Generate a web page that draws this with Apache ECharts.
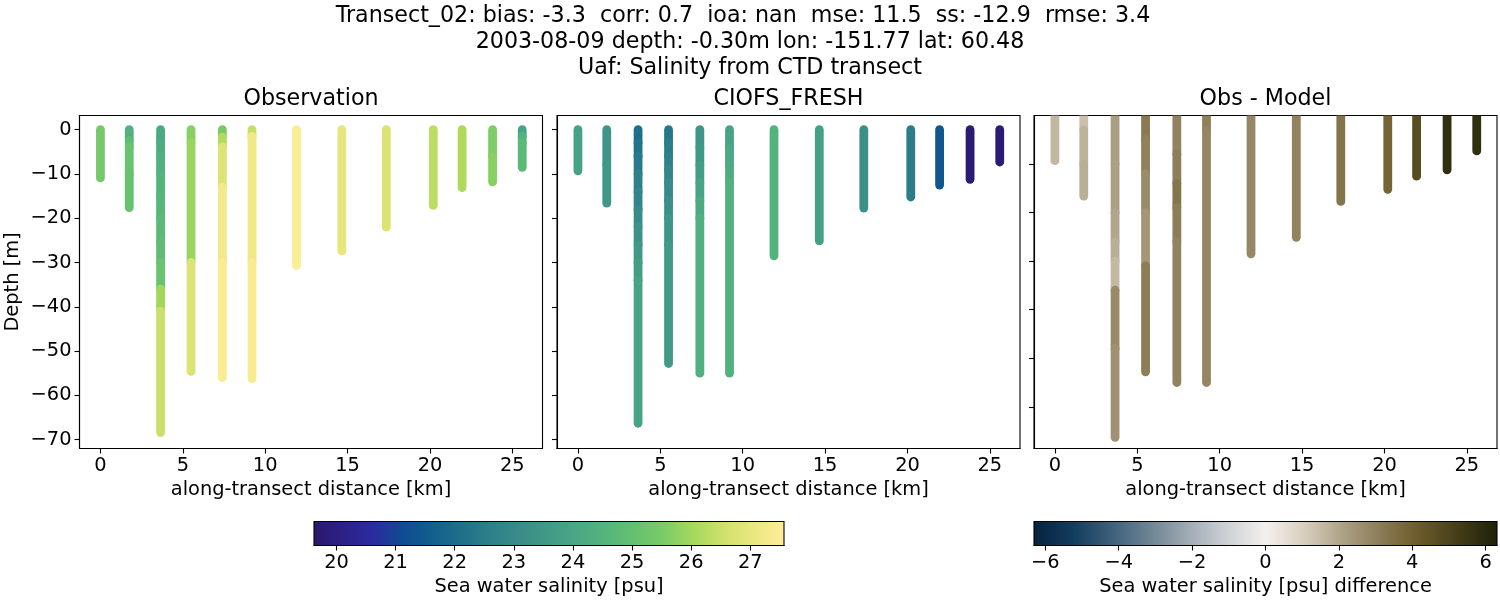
<!DOCTYPE html>
<html>
<head>
<meta charset="utf-8">
<title>Transect_02</title>
<script src="https://cdn.jsdelivr.net/npm/echarts@6/dist/echarts.min.js"></script>
<style>
    html, body { margin: 0; padding: 0; background: #fff; }
    #main { width: 1500px; height: 600px; }
</style>
</head>
<body>
<div id="main"></div>
<script>
// station positions along the transect [km]
var distances = [0, 1.75, 3.65, 5.5, 7.4, 9.2, 11.9, 14.65, 17.35, 20.2, 21.95, 23.8, 25.6];

// per station: runs of [top depth, bottom depth, salinity]
var obsProfiles = [
    [[0, -10.9, 25.4]],
    [[0, -2.5, 24.4], [-2.5, -4, 24.9], [-4, -10, 25.15], [-10, -17.6, 25.1]],
    [[0, -3, 24.1], [-3, -6, 24.25], [-6, -10, 24.35], [-10, -15, 24.5], [-15, -20, 24.6], [-20, -25, 24.75], [-25, -30, 24.85], [-30, -36, 25.15], [-36, -41, 26.0], [-41, -68.4, 26.5]],
    [[0, -3, 25.7], [-3, -30, 25.9], [-30, -54.6, 26.78]],
    [[0, -1.7, 25.5], [-1.7, -3.9, 26.2], [-3.9, -13, 26.8], [-13, -30, 27.25], [-30, -56, 27.45]],
    [[0, -1.5, 26.45], [-1.5, -30, 27.2], [-30, -56.2, 27.4]],
    [[0, -30.7, 27.5]],
    [[0, -27.4, 26.95]],
    [[0, -22, 26.75]],
    [[0, -17.1, 26.3]],
    [[0, -13.1, 26.15]],
    [[0, -6, 25.55], [-6, -11.8, 25.7]],
    [[0, -1.5, 23.9], [-1.5, -3, 24.5], [-3, -8.5, 24.75]]
];
var modelProfiles = [
    [[0, -9.3, 23.85]],
    [[0, -8, 23.45], [-8, -16.6, 23.55]],
    [[0, -3, 22.1], [-3, -6, 22.25], [-6, -10, 22.4], [-10, -14, 22.6], [-14, -18, 22.8], [-18, -22, 23.05], [-22, -26, 23.3], [-26, -30, 23.55], [-30, -34, 23.75], [-34, -66.3, 23.9]],
    [[0, -3, 22.35], [-3, -6, 22.5], [-6, -9, 22.7], [-9, -12, 22.85], [-12, -16, 23.05], [-16, -20, 23.25], [-20, -26, 23.45], [-26, -52.8, 23.6]],
    [[0, -4, 23.4], [-4, -8, 23.55], [-8, -12, 23.75], [-12, -16, 23.95], [-16, -20, 24.15], [-20, -55, 24.35]],
    [[0, -4, 23.9], [-4, -8, 24.1], [-8, -12, 24.25], [-12, -55, 24.4]],
    [[0, -28.5, 24.5]],
    [[0, -25.1, 23.8]],
    [[0, -17.7, 23.2]],
    [[0, -15.2, 22.5]],
    [[0, -12.5, 21.4]],
    [[0, -11.2, 19.8]],
    [[0, -7.3, 19.8]]
];
// runs of [top depth, bottom depth, salinity difference]
var diffProfiles = [
    [[0, -9.3, 1.6]],
    [[0, -3, 1.4], [-3, -10, 1.7], [-10, -16.6, 1.8]],
    [[0, -10, 2.2], [-10, -20, 2.15], [-20, -26, 2.0], [-26, -30, 1.8], [-30, -36, 1.55], [-36, -48, 2.75], [-48, -66.3, 2.55]],
    [[0, -5, 3.2], [-5, -12, 3.0], [-12, -20, 2.7], [-20, -31, 2.4], [-31, -52.8, 3.1]],
    [[0, -8, 2.95], [-8, -14, 3.05], [-14, -19, 3.35], [-19, -26, 3.1], [-26, -55, 2.95]],
    [[0, -3, 3.0], [-3, -55, 2.85]],
    [[0, -28.5, 2.8]],
    [[0, -25.1, 2.95]],
    [[0, -17.7, 3.35]],
    [[0, -15.2, 3.9]],
    [[0, -12.5, 4.7]],
    [[0, -11.2, 5.8]],
    [[0, -7.3, 5.8]]
];

var distanceTicks = [0, 5, 10, 15, 20, 25];
var depthTicks = [0, -10, -20, -30, -40, -50, -60, -70];
var diffDepthTicks = [-10, -20, -30, -40, -50, -60];
var salinityTicks = [20, 21, 22, 23, 24, 25, 26, 27];
var differenceTicks = [-6, -4, -2, 0, 2, 4, 6];

var titleLines = [
    'Transect_02: bias: -3.3  corr: 0.7  ioa: nan  mse: 11.5  ss: -12.9  rmse: 3.4  ',
    '2003-08-09 depth: -0.30m lon: -151.77 lat: 60.48',
    'Uaf: Salinity from CTD transect'
];
var panelTitles = ['Observation', 'CIOFS_FRESH', 'Obs - Model'];

var salinityRange = [19.62, 27.57];
var differenceRange = [-6.31, 6.31];

// evenly spaced colour stops, low to high
var halineColors = ['#2a186c', '#2d2186', '#2b2b9f', '#104b92', '#125f8d', '#1f6f8b', '#2e808a', '#398c89', '#419a87',
    '#4ba884', '#56b67c', '#66c170', '#7ecd66', '#a9d95c', '#d1e16d', '#ebe782', '#fdee99'];
var diffColors = ['#07223f', '#123c5d', '#3d5f7a', '#6d8494', '#a0abb5', '#cdd1d5', '#f4f0ed', '#d8cfbe', '#ada186', '#8b7b55', '#6b5a29', '#433e18', '#1e2009'];

var fontFamily = '"DejaVu Sans"';
var tickFont = 19.4;
var titleFont = 22.2;
var black = '#000';

function colorOf(value, range, colors) {
    var t = (value - range[0]) / (range[1] - range[0]);
    return echarts.color.lerp(Math.max(0, Math.min(1, t)), colors);
}

function minusSign(value) {
    return String(value).replace('-', '\u2212');
}

function flattenRuns(profiles) {
    var rows = [];
    profiles.forEach(function (runs, i) {
        runs.forEach(function (run) {
            rows.push([distances[i], run[0], run[1], run[2]]);
        });
    });
    return rows;
}

function profileSeries(index, profiles, range, colors) {
    return {
        type: 'custom',
        xAxisIndex: index,
        yAxisIndex: index,
        clip: true,
        coordinateSystem: 'cartesian2d',
        encode: { x: 0, y: [1, 2] },
        data: flattenRuns(profiles),
        renderItem: function (params, api) {
            var a = api.coord([api.value(0), api.value(1)]);
            var b = api.coord([api.value(0), api.value(2)]);
            return {
                type: 'line',
                shape: { x1: a[0], y1: a[1], x2: b[0], y2: b[1] },
                style: {
                    stroke: colorOf(api.value(3), range, colors),
                    lineWidth: 8.8,
                    lineCap: 'round'
                }
            };
        }
    };
}

function colorbarSeries(index, range, colors) {
    return {
        type: 'custom',
        xAxisIndex: index,
        yAxisIndex: index,
        encode: { x: [0, 1] },
        data: [[range[0], range[1]]],
        z: 1,
        renderItem: function (params, api) {
            var a = api.coord([api.value(0), 1]);
            var b = api.coord([api.value(1), 0]);
            return {
                type: 'rect',
                shape: { x: a[0], y: a[1], width: b[0] - a[0], height: b[1] - a[1] },
                style: {
                    fill: new echarts.graphic.LinearGradient(0, 0, 1, 0, colors.map(function (c, i) {
                        return { offset: i / (colors.length - 1), color: c };
                    }))
                }
            };
        }
    };
}

var panelGrids = [
    { left: 79.5, top: 115.5, width: 463, height: 333, show: true, borderColor: black, borderWidth: 1.1, backgroundColor: '#fff' },
    { left: 557, top: 115.5, width: 463, height: 333, show: true, borderColor: black, borderWidth: 1.1, backgroundColor: '#fff' },
    { left: 1034, top: 115.5, width: 463, height: 333, show: true, borderColor: black, borderWidth: 1.1, backgroundColor: '#fff' }
];
var barGrids = [
    { left: 314, top: 521.5, width: 470, height: 24, show: true, borderColor: black, borderWidth: 1.1, z: 5 },
    { left: 1034, top: 521.5, width: 463, height: 24, show: true, borderColor: black, borderWidth: 1.1, z: 5 }
];

function distanceAxis(index) {
    return {
        type: 'value',
        gridIndex: index,
        min: -1.27,
        max: 26.83,
        name: 'along-transect distance [km]',
        nameLocation: 'middle',
        nameGap: 32,
        nameTextStyle: { fontFamily: fontFamily, fontSize: tickFont, color: black },
        splitLine: { show: false },
        axisLine: { show: true, onZero: false, lineStyle: { color: black, width: 1.1 } },
        axisTick: { show: true, length: 5, customValues: distanceTicks, lineStyle: { color: black, width: 1.1 } },
        axisLabel: { show: true, margin: 8, customValues: distanceTicks, color: black, fontFamily: fontFamily, fontSize: tickFont }
    };
}

function depthAxis(index, min, max, ticks, showLabels) {
    return {
        type: 'value',
        gridIndex: index,
        min: min,
        max: max,
        name: showLabels ? 'Depth [m]' : '',
        nameLocation: 'middle',
        nameGap: 57,
        nameTextStyle: { fontFamily: fontFamily, fontSize: tickFont, color: black },
        splitLine: { show: false },
        axisLine: { show: true, onZero: false, lineStyle: { color: black, width: 1.1 } },
        axisTick: { show: true, length: 5, customValues: ticks, lineStyle: { color: black, width: 1.1 } },
        axisLabel: { show: showLabels, margin: 8, customValues: ticks, color: black, fontFamily: fontFamily, fontSize: tickFont, formatter: minusSign }
    };
}

function barAxis(index, range, ticks, name) {
    return {
        type: 'value',
        gridIndex: index,
        min: range[0],
        max: range[1],
        name: name,
        nameLocation: 'middle',
        nameGap: 32,
        nameTextStyle: { fontFamily: fontFamily, fontSize: tickFont, color: black },
        splitLine: { show: false },
        axisLine: { show: true, onZero: false, lineStyle: { color: black, width: 1.1 } },
        axisTick: { show: true, length: 5, customValues: ticks, lineStyle: { color: black, width: 1.1 } },
        axisLabel: { show: true, margin: 8, customValues: ticks, color: black, fontFamily: fontFamily, fontSize: tickFont, formatter: minusSign }
    };
}

function hiddenAxis(index) {
    return { type: 'value', gridIndex: index, min: 0, max: 1, show: false, splitLine: { show: false } };
}

var titles = titleLines.map(function (line, i) {
    return {
        text: line,
        left: 750,
        top: 5 + i * 26,
        textAlign: 'center',
        padding: 0,
        textStyle: { fontFamily: fontFamily, fontSize: titleFont, fontWeight: 'normal', color: black }
    };
}).concat(panelTitles.map(function (line, i) {
    return {
        text: line,
        left: panelGrids[i].left + panelGrids[i].width / 2,
        top: 88,
        textAlign: 'center',
        padding: 0,
        textStyle: { fontFamily: fontFamily, fontSize: titleFont, fontWeight: 'normal', color: black }
    };
}));

var myChart = echarts.init(document.getElementById('main'), null, { renderer: 'canvas' });
myChart.setOption({
    animation: false,
    backgroundColor: '#fff',
    title: titles,
    grid: panelGrids.concat(barGrids),
    xAxis: [
        distanceAxis(0), distanceAxis(1), distanceAxis(2),
        barAxis(3, salinityRange, salinityTicks, 'Sea water salinity [psu]'),
        barAxis(4, differenceRange, differenceTicks, 'Sea water salinity [psu] difference')
    ],
    yAxis: [
        depthAxis(0, -72, 3.2, depthTicks, true),
        depthAxis(1, -72, 3.2, depthTicks, false),
        depthAxis(2, -68.6, 0, diffDepthTicks, false),
        hiddenAxis(3),
        hiddenAxis(4)
    ],
    series: [
        profileSeries(0, obsProfiles, salinityRange, halineColors),
        profileSeries(1, modelProfiles, salinityRange, halineColors),
        profileSeries(2, diffProfiles, differenceRange, diffColors),
        colorbarSeries(3, salinityRange, halineColors),
        colorbarSeries(4, differenceRange, diffColors)
    ]
});
</script>
</body>
</html>
